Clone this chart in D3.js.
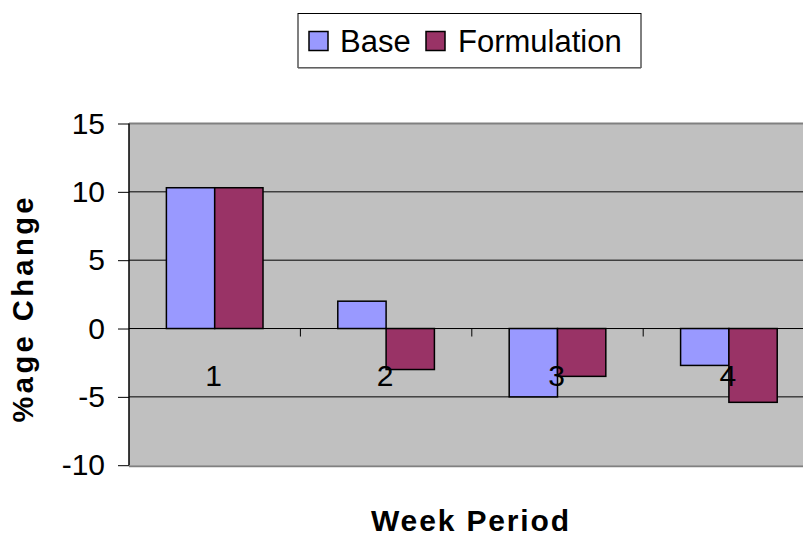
<!DOCTYPE html>
<html><head><meta charset="utf-8">
<script src="https://cdn.jsdelivr.net/npm/d3@7/dist/d3.min.js"></script>
<style>body{margin:0;background:#fff;overflow:hidden}svg{display:block}text{font-family:"Liberation Sans",Arial,sans-serif}</style>
</head><body>
<script>
const categories = ["1","2","3","4"];
const seriesNames = ["Base","Formulation"];
const baseValues = [10.3, 2.0, -5.0, -2.7];
const formulationValues = [10.3, -3.0, -3.5, -5.4];
const yTicks = [-10,-5,0,5,10,15];
const colors = ["#9999FF","#993366"];

const W=803,H=537;
const pLeft=129, pTop=123.5, pBottom=465.2, pRight=814.6;
const svg=d3.select("body").append("svg").attr("width",W).attr("height",H);
svg.append("rect").attr("width",W).attr("height",H).attr("fill","#fff");

const y=d3.scaleLinear().domain([-10,15]).range([pBottom,pTop]);
const x0=d3.scaleBand().domain(categories).range([pLeft,pRight]);
const x1=d3.scaleBand().domain(seriesNames).range([0,x0.bandwidth()]).paddingInner(0).paddingOuter(0.774);

// plot area
svg.append("rect").attr("x",pLeft).attr("y",pTop).attr("width",pRight-pLeft).attr("height",pBottom-pTop).attr("fill","#C0C0C0");
svg.append("line").attr("x1",pLeft).attr("x2",pRight).attr("y1",pTop).attr("y2",pTop).attr("stroke","#808080").attr("stroke-width",2);
svg.append("line").attr("x1",pLeft).attr("x2",pRight).attr("y1",pBottom+1).attr("y2",pBottom+1).attr("stroke","#808080").attr("stroke-width",2);

// gridlines
svg.append("g").selectAll("line").data(yTicks.filter(d=>d>-10&&d<15)).join("line")
  .attr("x1",pLeft).attr("x2",pRight).attr("y1",d=>y(d)).attr("y2",d=>y(d))
  .attr("stroke","#000").attr("stroke-width",1);

// y axis
const yAxis=svg.append("g").attr("transform",`translate(${pLeft},0)`)
  .call(d3.axisLeft(y).tickValues(yTicks).tickSize(11).tickPadding(13).tickFormat(d=>String(d)));
yAxis.select(".domain").attr("stroke","#000").attr("stroke-width",1.5).attr("d",`M0,${pTop}V${pBottom}`);
yAxis.selectAll(".tick line").attr("stroke","#000");
yAxis.selectAll("text").attr("font-size",30).attr("fill","#000").attr("font-family","'Liberation Sans',Arial,sans-serif");

// bars
const data=categories.map((c,i)=>({cat:c,vals:[baseValues[i],formulationValues[i]]}));
const g=svg.append("g").selectAll("g").data(data).join("g").attr("transform",d=>`translate(${x0(d.cat)},0)`);
g.selectAll("rect").data(d=>d.vals.map((v,j)=>({name:seriesNames[j],v,j}))).join("rect")
  .attr("x",d=>x1(d.name)).attr("width",x1.bandwidth())
  .attr("y",d=>y(Math.max(0,d.v))).attr("height",d=>Math.abs(y(d.v)-y(0)))
  .attr("fill",d=>colors[d.j]).attr("stroke","#000").attr("stroke-width",1.5);

// zero axis with ticks at category boundaries
svg.append("line").attr("x1",pLeft).attr("x2",pRight).attr("y1",y(0)).attr("y2",y(0)).attr("stroke","#000").attr("stroke-width",1);
svg.append("g").selectAll("line").data(categories.slice(1)).join("line")
  .attr("x1",d=>x0(d)).attr("x2",d=>x0(d)).attr("y1",y(0)).attr("y2",y(0)+8).attr("stroke","#000");

// category labels
svg.append("g").selectAll("text").data(categories).join("text")
  .attr("x",d=>x0(d)+x0.bandwidth()/2-1).attr("y",y(0)+57).attr("text-anchor","middle")
  .attr("font-size",30).attr("fill","#000").text(d=>d);

// axis titles
svg.append("text").attr("x",470).attr("y",531).attr("text-anchor","middle").attr("font-size",30)
  .attr("font-weight","bold").attr("textLength",198).attr("lengthAdjust","spacing").text("Week Period");
svg.append("text").attr("transform","translate(33,310) rotate(-90)").attr("text-anchor","middle").attr("font-size",29)
  .attr("font-weight","bold").attr("textLength",225).attr("lengthAdjust","spacing").text("%age Change");

// legend
const lg=svg.append("g");
lg.append("rect").attr("x",298).attr("y",13.5).attr("width",343).attr("height",54).attr("fill","#fff").attr("stroke","#000").attr("stroke-width",1);
lg.append("line").attr("x1",298).attr("x2",641).attr("y1",68).attr("y2",68).attr("stroke","#808080").attr("stroke-width",1.5);
const lx=[309,426], tx=[340,458];
seriesNames.forEach((n,i)=>{
  lg.append("rect").attr("x",lx[i]).attr("y",31.5).attr("width",19).attr("height",19).attr("fill",colors[i]).attr("stroke","#000").attr("stroke-width",1.5);
  lg.append("text").attr("x",tx[i]).attr("y",51.5).attr("font-size",31).attr("fill","#000").text(n);
});
</script>
</body></html>
